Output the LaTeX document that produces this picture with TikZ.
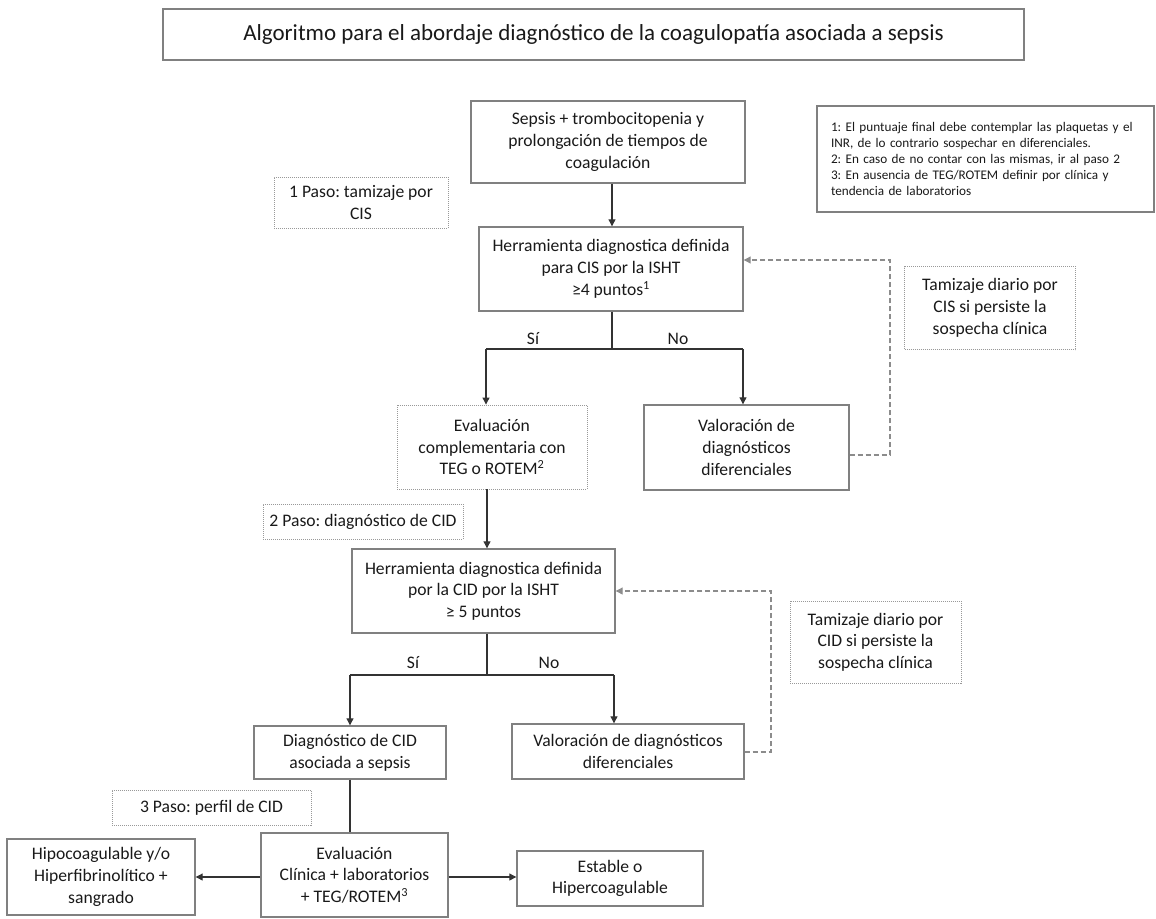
\documentclass[tikz,border=0pt]{standalone}
\usepackage{fontspec}
\setmainfont{Carlito}
\usetikzlibrary{arrows.meta}
\frenchspacing

\newcommand{\cajafont}{\fontsize{17.6}{21.7}\selectfont}
\newcommand{\indice}[1]{\textsuperscript{#1}}

\begin{document}
\begin{tikzpicture}[x=1pt, y=-1pt,
  caja/.style={draw=black!50, line width=1.4pt, align=center, inner sep=0pt,
    font=\cajafont, text=black!90},
  punteada/.style={caja, draw=black!40, line width=0.9pt, dash pattern=on 1pt off 1pt},
  flecha/.style={draw=black!80, line width=1.1pt, -{Triangle[length=7pt, width=7pt]}},
  linea/.style={draw=black!80, line width=1.1pt},
  retorno/.style={flecha, draw=black!45, dash pattern=on 5pt off 3pt},
  etiqueta/.style={font=\cajafont, text=black!90}]
\useasboundingbox (0,0) rectangle (1156,918);

% titulo y notas
\node[caja, minimum width=861pt, minimum height=51pt, font=\fontsize{23}{27}\selectfont]
  (titulo) at (593.5,34.5) {Algoritmo para el abordaje diagnóstico de la coagulopatía asociada a sepsis};
\node[caja, minimum width=337pt, minimum height=106pt, text width=309pt, align=left,
  font=\fontsize{13.2}{16}\selectfont] (notas) at (985.5,159)
  {1: El puntuaje final debe contemplar las plaquetas y el\\
   INR, de lo contrario sospechar en diferenciales.\\
   2: En caso de no contar con las mismas, ir al paso 2\\
   3: En ausencia de TEG/ROTEM definir por clínica y\\
   tendencia de laboratorios};

% paso 1
\node[caja, minimum width=274pt, minimum height=82pt] (sepsis) at (608,142)
  {Sepsis + trombocitopenia y\\prolongación de tiempos de\\coagulación};
\node[punteada, minimum width=174pt, minimum height=51pt] (paso1) at (361,202.5)
  {1 Paso: tamizaje por\\CIS};
\node[caja, minimum width=264pt, minimum height=84pt] (cis) at (611,269)
  {Herramienta diagnostica definida\\para CIS por la ISHT\\≥4 puntos\indice{1}};
\node[punteada, minimum width=171pt, minimum height=83pt] (tamcis) at (990,308)
  {Tamizaje diario por\\CIS si persiste la\\sospecha clínica};
\node[punteada, minimum width=190pt, minimum height=84pt] (evalcomp) at (492,447)
  {Evaluación\\complementaria con\\TEG o ROTEM\indice{2}};
\node[caja, minimum width=205pt, minimum height=85pt] (valcis) at (746.5,447.5)
  {Valoración de\\diagnósticos\\diferenciales};

% paso 2
\node[punteada, minimum width=200pt, minimum height=35pt] (paso2) at (363,521.5)
  {2 Paso: diagnóstico de CID};
\node[caja, minimum width=263pt, minimum height=84pt] (cid) at (483.5,591)
  {Herramienta diagnostica definida\\por la CID por la ISHT\\≥ 5 puntos};
\node[punteada, minimum width=171pt, minimum height=82pt] (tamcid) at (875.5,642)
  {Tamizaje diario por\\CID si persiste la\\sospecha clínica};
\node[caja, minimum width=192pt, minimum height=53pt] (diagcid) at (350,752.5)
  {Diagnóstico de CID\\asociada a sepsis};
\node[caja, minimum width=232pt, minimum height=55pt] (valcid) at (628,751.5)
  {Valoración de diagnósticos\\diferenciales};

% paso 3
\node[punteada, minimum width=199pt, minimum height=35pt] (paso3) at (211.5,807.5)
  {3 Paso: perfil de CID};
\node[caja, minimum width=187pt, minimum height=84pt] (evalfin) at (354.5,875)
  {Evaluación\\Clínica + laboratorios\\+ TEG/ROTEM\indice{3}};
\node[caja, minimum width=188pt, minimum height=76pt] (hipo) at (101,877)
  {Hipocoagulable y/o\\Hiperfibrinolítico +\\sangrado};
\node[caja, minimum width=186pt, minimum height=55pt] (estable) at (610,878.5)
  {Estable o\\Hipercoagulable};

% conectores
\coordinate (b1) at (612,349);
\coordinate (b1l) at (486,349);
\coordinate (b1r) at (743,349);
\coordinate (b2) at (487,675);
\coordinate (b2l) at (350,675);
\coordinate (b2r) at (614,675);
\coordinate (r1) at (890,455);
\coordinate (r1t) at (890,260);
\coordinate (r2) at (771,752);
\coordinate (r2t) at (771,591);
\coordinate (lat) at (0,877);

\draw[flecha] (sepsis.south -| b1) -- (cis.north -| b1);
\draw[linea] (cis.south -| b1) -- (b1);
\draw[linea] (b1l) -- (b1r);
\draw[flecha] (b1l) -- (evalcomp.north -| b1l);
\draw[flecha] (b1r) -- (valcis.north -| b1r);
\node[etiqueta] (si1) at (533,339) {Sí};
\node[etiqueta] (no1) at (678,339) {No};
\draw[retorno] (valcis.east |- r1) -- (r1) -- (r1t) -- (cis.east |- r1t);

\draw[flecha] (evalcomp.south -| b2) -- (cid.north -| b2);
\draw[linea] (cid.south -| b2) -- (b2);
\draw[linea] (b2l) -- (b2r);
\draw[flecha] (b2l) -- (diagcid.north -| b2l);
\draw[flecha] (b2r) -- (valcid.north -| b2r);
\node[etiqueta] (si2) at (413,663) {Sí};
\node[etiqueta] (no2) at (549,663) {No};
\draw[retorno] (valcid.east |- r2) -- (r2) -- (r2t) -- (cid.east |- r2t);

\draw[linea] (diagcid.south) -- (diagcid.south |- evalfin.north);
\draw[flecha] (evalfin.west |- lat) -- (hipo.east |- lat);
\draw[flecha] (evalfin.east |- lat) -- (estable.west |- lat);
\end{tikzpicture}
\end{document}
